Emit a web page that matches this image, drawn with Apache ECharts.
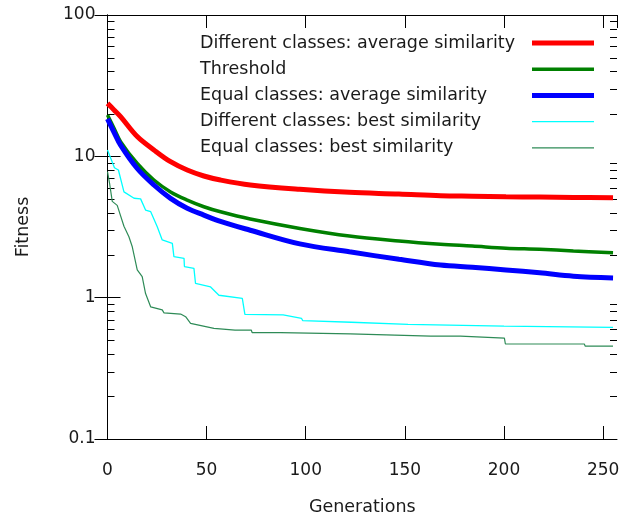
<!DOCTYPE html>
<html><head><meta charset="utf-8">
<script src="https://cdn.jsdelivr.net/npm/echarts@6/dist/echarts.min.js"></script>
<style>html,body{margin:0;padding:0;background:#fff}#c{width:634px;height:516px}</style>
</head><body><div id="c"></div>
<script>
const seriesNames = [
  'Different classes: average similarity',
  'Threshold',
  'Equal classes: average similarity',
  'Different classes: best similarity',
  'Equal classes: best similarity'
];
const avgGens   = [0, 3.3, 6.6, 15, 23.4, 31.8, 40.2, 48.6, 57, 72, 97, 122, 147, 168, 184, 201, 218, 235, 255];
const diffAvg   = [23.7, 21.3, 19.1, 13.8, 11.1, 9.16, 8.0, 7.26, 6.8, 6.27, 5.84, 5.56, 5.41, 5.26, 5.22, 5.18, 5.15, 5.12, 5.09];
const threshold = [19.6, 15.8, 12.7, 8.9, 6.8, 5.6, 4.9, 4.4, 4.05, 3.6, 3.09, 2.73, 2.52, 2.39, 2.32, 2.24, 2.20, 2.14, 2.08];
const equalAvg  = [18.4, 14.8, 12.0, 8.2, 6.27, 5.04, 4.29, 3.84, 3.46, 3.0, 2.40, 2.11, 1.87, 1.70, 1.64, 1.57, 1.50, 1.42, 1.38];

const diffBestGens = [0, 3.5, 5.5, 8.3, 13.4, 16.7, 19.2, 21.8, 25.1, 27.6, 32.7, 33.5, 38.6, 38.8, 43.6, 44.4, 52, 56.2, 68, 69.3, 88.6, 97.9, 98.5, 123, 151.6, 152.5, 200, 201, 255];
const diffBest     = [11.1, 8.3, 8.0, 5.6, 5.05, 5.0, 4.17, 4.06, 3.18, 2.56, 2.42, 1.95, 1.90, 1.66, 1.61, 1.26, 1.19, 1.04, 0.99, 0.762, 0.755, 0.713, 0.687, 0.67, 0.647, 0.638, 0.63, 0.618, 0.616];

const equalBestGens = [0, 1, 2.4, 4.9, 8.3, 10.8, 12.5, 15, 17.5, 19.2, 21.8, 27.6, 28.5, 36.9, 39.4, 41.9, 53.7, 64.3, 72.5, 73, 87.3, 87.8, 122.5, 123, 163, 178, 178.5, 200.2, 200.7, 240.5, 241, 255];
const equalBest     = [7.8, 6.5, 4.8, 4.5, 3.2, 2.7, 2.29, 1.57, 1.41, 1.07, 0.86, 0.82, 0.78, 0.766, 0.733, 0.658, 0.607, 0.59, 0.59, 0.565, 0.565, 0.555, 0.555, 0.54, 0.535, 0.535, 0.518, 0.518, 0.47, 0.47, 0.454, 0.454];

const minorTickValues = [0.2,0.3,0.4,0.5,0.6,0.7,0.8,0.9, 2,3,4,5,6,7,8,9, 20,30,40,50,60,70,80,90];

const X_MAX = 257;
const colors = ['#ff0000', '#008000', '#0000ff', '#00ffff', '#2e8b57'];
const widths = [5, 3.5, 5, 1.3, 1.2];
const FONT = 'DejaVu Sans';
const TXT = '#1a1a1a';

function zip(xs, ys) { return xs.map((x, i) => [x, ys[i]]); }

const lineData = [
  zip(avgGens, diffAvg),
  zip(avgGens, threshold),
  zip(avgGens, equalAvg),
  zip(diffBestGens, diffBest),
  zip(equalBestGens, equalBest)
];

const chart = echarts.init(document.getElementById('c'), null, {renderer: 'canvas'});

const axisLineStyle = {color: '#000', width: 1};
const fmtLog = v => String(Number(Number(v).toPrecision(3)));

const series = lineData.map((d, i) => ({
  name: seriesNames[i],
  type: 'line',
  data: d,
  symbol: 'none',
  smooth: i < 3 ? 0.35 : false,
  lineStyle: {color: colors[i], width: widths[i]},
  itemStyle: {color: colors[i]},
  z: 3,
  animation: false
}));

const option = {
  animation: false,
  backgroundColor: '#fff',
  grid: {left: 107.5, right: 17, top: 15, bottom: 77, containLabel: false, outerBoundsMode: 'none'},
  xAxis: [{
    type: 'value', min: 0, max: X_MAX, interval: 50,
    axisLine: {show: true, lineStyle: axisLineStyle},
    axisTick: {show: true, inside: true, length: 13, lineStyle: axisLineStyle},
    axisLabel: {fontSize: 17, fontFamily: FONT, color: TXT, margin: 23, showMaxLabel: false},
    splitLine: {show: false},
    name: 'Generations', nameLocation: 'middle', nameGap: 59,
    nameTextStyle: {fontSize: 17.5, fontFamily: FONT, color: TXT}
  }, {
    type: 'value', min: 0, max: X_MAX, interval: 50, position: 'top',
    axisLine: {show: true, lineStyle: axisLineStyle},
    axisTick: {show: true, inside: true, length: 13, lineStyle: axisLineStyle},
    axisLabel: {show: false},
    splitLine: {show: false}
  }],
  yAxis: [{
    type: 'log', logBase: 10, min: 0.1, max: 100,
    axisLine: {show: true, lineStyle: axisLineStyle},
    axisTick: {show: true, inside: true, length: 13, lineStyle: axisLineStyle},
    axisLabel: {fontSize: 17, fontFamily: FONT, color: TXT, margin: 12, formatter: fmtLog},
    splitLine: {show: false},
    name: 'Fitness', nameLocation: 'middle', nameGap: 75,
    nameTextStyle: {fontSize: 17.5, fontFamily: FONT, color: TXT}
  }, {
    type: 'log', logBase: 10, min: 0.1, max: 100, position: 'right',
    axisLine: {show: true, lineStyle: axisLineStyle},
    axisTick: {show: true, inside: true, length: 13, lineStyle: axisLineStyle},
    axisLabel: {show: false},
    splitLine: {show: false}
  }],
  legend: {
    orient: 'vertical', left: 195, top: 28, align: 'right',
    itemWidth: 62, itemHeight: 14, itemGap: 6.2,
    selectedMode: false,
    itemStyle: {borderWidth: 0},
    data: seriesNames.map((n, i) => ({name: n, icon: 'path://M0,0H62V' + widths[i] + 'H0Z'})),
    formatter: n => '{t|' + n + '}',
    textStyle: {
      fontSize: 17.5, fontFamily: FONT, color: TXT, lineHeight: 20,
      rich: {t: {width: 327, align: 'left', fontSize: 17.5, fontFamily: FONT, color: TXT, lineHeight: 20}}
    }
  },
  series: series
};
chart.setOption(option);

// Minor log ticks (2..9 of each decade) on left and right frame, placed via the axis scales
const minorGraphics = [];
minorTickValues.forEach(v => {
  const pl = chart.convertToPixel({xAxisIndex: 0, yAxisIndex: 0}, [0, v]);
  const pr = chart.convertToPixel({xAxisIndex: 0, yAxisIndex: 0}, [X_MAX, v]);
  const y = Math.round(pl[1]) + 0.5;
  minorGraphics.push({type: 'line', silent: true, z: 1,
    shape: {x1: pl[0], y1: y, x2: pl[0] + 7, y2: y}, style: {stroke: '#000', lineWidth: 1}});
  minorGraphics.push({type: 'line', silent: true, z: 1,
    shape: {x1: pr[0] - 7, y1: y, x2: pr[0], y2: y}, style: {stroke: '#000', lineWidth: 1}});
});
chart.setOption({graphic: minorGraphics});
</script>
</body></html>
